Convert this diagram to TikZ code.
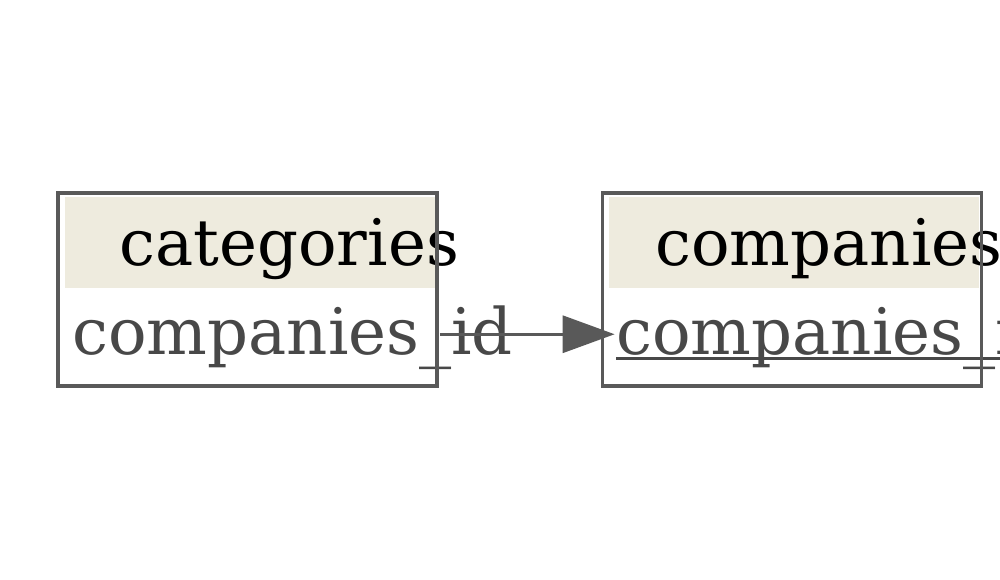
\documentclass[tikz,border=0pt]{standalone}
\usepackage{fontspec}
\setmainfont{DejaVu Serif}
\usetikzlibrary{positioning, arrows.meta}
\definecolor{tableline}{HTML}{595959}
\definecolor{headfill}{HTML}{EEEBDE}
\definecolor{fieldtext}{HTML}{484848}

\tikzset{
	tablebox/.style={rectangle, draw=tableline, line width=0.085cm, inner sep=0pt, minimum width=9.475cm, minimum height=4.825cm},
	headcell/.style={rectangle, fill=headfill, inner sep=0pt, minimum width=9.25cm, minimum height=2.275cm},
	fieldcell/.style={rectangle, inner sep=0pt, minimum width=9.475cm, minimum height=2.3cm},
	tablename/.style={inner sep=0pt, anchor=base west, font=\fontsize{45.6}{55}\selectfont},
	fieldname/.style={tablename, text=fieldtext},
	foreignkey/.style={draw=tableline, line width=0.085cm, -{Triangle[length=1.3cm, width=0.925cm]}}
}

\begin{document}
\begin{tikzpicture}
	\useasboundingbox (0,0) rectangle (25,-14.5);
	% tables (border drawn again on top of the texts)
	\node [tablebox, draw=none] (categories) at (6.19,-7.24) {};
	\node [tablebox, draw=none] (companies) at (19.8,-7.24) {};
	
	\node [headcell, below = 0.125cm of categories.north, xshift=0.06cm] (cathead) {};
	\node [fieldcell, below = 0 cm of cathead] (catid) {};
	\node [headcell, below = 0.125cm of companies.north, xshift=0.06cm] (comphead) {};
	\node [fieldcell, below = 0 cm of comphead] (compid) {};
	
	\node [tablename] (cattitle) at (2.98,-6.625) {categories};
	\node [fieldname] (catfield) at (1.8,-8.85) {companies\_id};
	\node [tablename] (comptitle) at (16.38,-6.625) {companies};
	\node [fieldname] (compfield) at (15.4,-8.85) {companies\_id};
	\draw [fieldtext, line width=0.055cm] ([yshift=-0.11cm]compfield.base west) -- ([yshift=-0.11cm]compfield.base east);
	
	\node [tablebox] at (categories) {};
	\node [tablebox] at (companies) {};
	
	\draw [foreignkey] (catid.east) -- ([xshift=0.25cm]compid.west);
\end{tikzpicture}
\end{document}
